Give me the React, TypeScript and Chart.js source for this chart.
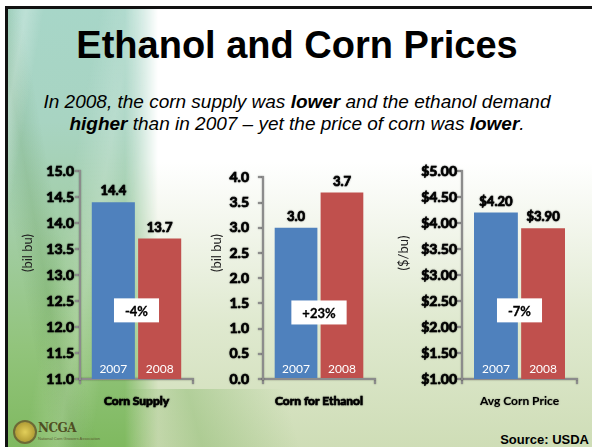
import React, { useEffect, useRef } from "react";
import { Chart, registerables } from "chart.js";

Chart.register(...registerables);

// ---------- data ----------
const years = ["2007", "2008"];
const categories = ["Corn Supply", "Corn for Ethanol", "Avg Corn Price"];
const cornSupply = [14.4, 13.7];
const cornForEthanol = [3.0, 3.7];
const avgCornPrice = [4.2, 3.9];
const changes = ["-4%", "+23%", "-7%"];
const axisTitles = ["(bil bu)", "(bil bu)", "($/bu)"];
const axisMin = [11, 0, 1];
const axisMax = [15, 4, 5];
const tickStep = 0.5;

const BLUE = "#4f81bd";
const RED = "#c0504d";
const AXIS = "#8c8c8c";
const FONT = "Lato, 'Open Sans', sans-serif";

const fmtNum = (v: number) => v.toFixed(1);
const fmtDollar = (v: number) => "$" + v.toFixed(2);

const decoPlugin = {
  id: "deco",
  beforeDraw(chart: any) {
    const ctx = chart.ctx;
    ctx.shadowColor = "rgba(0,0,0,0.5)";
    ctx.shadowBlur = 1.5;
  },
  beforeDatasetsDraw(chart: any) {
    const ctx = chart.ctx;
    ctx.shadowColor = "transparent";
    ctx.shadowBlur = 0;
  },
  afterDatasetsDraw(chart: any, _args: any, opts: any) {
    const ctx = chart.ctx;
    const area = chart.chartArea;
    ctx.save();
    chart.data.datasets.forEach((ds: any, di: number) => {
      const meta = chart.getDatasetMeta(di);
      meta.data.forEach((bar: any, i: number) => {
        const v = ds.data[i];
        ctx.font = `bold 13px ${FONT}`;
        ctx.fillStyle = "#000";
        ctx.strokeStyle = "#000";
        ctx.lineWidth = 0.7;
        ctx.textAlign = "center";
        ctx.textBaseline = "alphabetic";
        ctx.shadowColor = "rgba(0,0,0,0.5)";
        ctx.shadowBlur = 1.5;
        ctx.strokeText(opts.fmt(v), bar.x, bar.y - 7);
        ctx.fillText(opts.fmt(v), bar.x, bar.y - 7);
        ctx.shadowColor = "transparent";
        ctx.shadowBlur = 0;
        ctx.font = `12px ${FONT}`;
        ctx.fillStyle = "#fff";
        ctx.textBaseline = "middle";
        ctx.fillText(ds.label, bar.x, area.bottom - 10);
      });
    });
    const xScale = chart.scales.x;
    const cx = xScale.getPixelForValue(0);
    const cy = area.bottom - 0.33 * (area.bottom - area.top);
    ctx.font = `bold 13px ${FONT}`;
    const w = ctx.measureText(opts.change).width + 22;
    ctx.fillStyle = "#fff";
    ctx.fillRect(cx - w / 2, cy - 12, w, 24);
    ctx.fillStyle = "#000";
    ctx.textAlign = "center";
    ctx.textBaseline = "middle";
    ctx.strokeStyle = "#000";
    ctx.lineWidth = 0.3;
    ctx.strokeText(opts.change, cx, cy + 1);
    ctx.fillText(opts.change, cx, cy + 1);
    ctx.restore();
  },
  afterDraw(chart: any, _args: any, opts: any) {
    const ctx = chart.ctx;
    ctx.save();
    ctx.shadowColor = "transparent";
    ctx.shadowBlur = 0;
    ctx.translate(opts.titleX, opts.titleY);
    ctx.rotate(-Math.PI / 2);
    ctx.font = `13px ${FONT}`;
    ctx.fillStyle = "#222";
    ctx.textAlign = "center";
    ctx.textBaseline = "middle";
    ctx.fillText(opts.title, 0, 0);
    ctx.restore();
  },
};

type PanelProps = {
  idx: number;
  values: number[];
  left: number;
  width: number;
  yAxisWidth: number;
  rightPad: number;
  tickPad: number;
  titleX: number;
  fmt: (v: number) => string;
  catStroke: number;
};

const TOP = 160;
const HEIGHT = 260;

function Panel(p: PanelProps) {
  const ref = useRef<HTMLCanvasElement | null>(null);
  useEffect(() => {
    if (!ref.current) return;
    const chart = new Chart(ref.current, {
      type: "bar",
      data: {
        labels: [categories[p.idx]],
        datasets: [
          { label: years[0], data: [p.values[0]], backgroundColor: BLUE },
          { label: years[1], data: [p.values[1]], backgroundColor: RED },
        ],
      },
      options: {
        responsive: false,
        animation: false,
        layout: { padding: { top: 11, right: p.rightPad, bottom: 0, left: 0 } },
        datasets: { bar: { categoryPercentage: 0.82, barPercentage: 0.93 } },
        plugins: {
          legend: { display: false },
          tooltip: { enabled: false },
          deco: { fmt: p.fmt, change: changes[p.idx], title: axisTitles[p.idx], titleX: p.titleX, titleY: 93 },
        } as any,
        scales: {
          x: {
            grid: { offset: true, drawOnChartArea: false, drawTicks: true, tickLength: 5, color: AXIS, lineWidth: 2 },
            border: { color: AXIS, width: 2 },
            ticks: {
              color: "#000",
              padding: 10,
              textStrokeColor: "#000",
              textStrokeWidth: p.catStroke,
              font: { family: FONT, size: 12, weight: "bold" as any },
            } as any,
            afterFit: (s: any) => { s.height = 41; },
          },
          y: {
            min: axisMin[p.idx],
            max: axisMax[p.idx],
            grid: { drawOnChartArea: false, drawTicks: true, tickLength: 5, color: AXIS, lineWidth: 2 },
            border: { color: AXIS, width: 2 },
            ticks: {
              stepSize: tickStep,
              padding: p.tickPad,
              color: "#000",
              textStrokeColor: "#000",
              textStrokeWidth: 0.7,
              font: { family: FONT, size: 14, weight: "bold" as any },
              callback: (v: any) => p.fmt(Number(v)),
            } as any,
            afterFit: (s: any) => { s.width = p.yAxisWidth; },
          },
        },
      },
      plugins: [decoPlugin],
    });
    return () => chart.destroy();
  }, []);
  return (
    <canvas
      ref={ref}
      width={p.width}
      height={HEIGHT}
      style={{ position: "absolute", left: p.left, top: TOP, width: p.width, height: HEIGHT }}
    />
  );
}

export default function App() {
  return (
    <div
      style={{
        position: "absolute",
        left: 0,
        top: 0,
        width: 592,
        height: 447,
        overflow: "hidden",
        background: "#fff",
      }}
    >
      <div
        style={{
          position: "absolute",
          left: 5,
          top: 6,
          width: 600,
          height: 450,
          borderTop: "3px solid #111",
          borderLeft: "3px solid #111",
          overflow: "hidden",
          background:
            "linear-gradient(180deg, #ffffff 0%, #ffffff 34%, #f1f5ea 50%, #dfe9cf 70%, #cddcb4 100%)",
        }}
      >
        <div
          style={{
            position: "absolute",
            left: 0,
            top: 0,
            width: 150,
            height: 450,
            background:
              "linear-gradient(180deg, #a7d6c8 0%, #a8d4c2 25%, #a2cda4 50%, #92c47c 75%, #7db85c 100%)",
            WebkitMaskImage: "linear-gradient(90deg, #000 0%, #000 78%, transparent 100%)",
            maskImage: "linear-gradient(90deg, #000 0%, #000 78%, transparent 100%)",
          }}
        />
        <div
          style={{
            position: "absolute",
            left: 0,
            top: 0,
            width: 150,
            height: 450,
            background:
              "linear-gradient(100deg, transparent 0%, rgba(255,255,255,0.25) 8%, transparent 16%, transparent 40%, rgba(255,255,255,0.2) 55%, transparent 70%), linear-gradient(80deg, transparent 20%, rgba(60,120,40,0.15) 30%, transparent 40%)",
            WebkitMaskImage: "linear-gradient(90deg, #000 0%, #000 70%, transparent 100%)",
            maskImage: "linear-gradient(90deg, #000 0%, #000 70%, transparent 100%)",
          }}
        />
        <div
          style={{
            position: "absolute",
            left: 100,
            top: 380,
            width: 260,
            height: 70,
            background: "linear-gradient(75deg, transparent 10%, rgba(110,170,80,0.35) 35%, transparent 70%)",
          }}
        />
      </div>

      <div
        style={{
          position: "absolute",
          left: 0,
          top: 26,
          width: 594,
          textAlign: "center",
          fontFamily: "'Liberation Sans', Arial, sans-serif",
          fontWeight: "bold",
          fontSize: 38,
          lineHeight: "38px",
          color: "#000",
          whiteSpace: "nowrap",
        }}
      >
        Ethanol and Corn Prices
      </div>
      <div
        style={{
          position: "absolute",
          left: 0,
          top: 91,
          width: 594,
          textAlign: "center",
          fontFamily: "'Liberation Sans', Arial, sans-serif",
          fontStyle: "italic",
          fontSize: 19,
          lineHeight: "22px",
          color: "#000",
          whiteSpace: "nowrap",
        }}
      >
        In 2008, the corn supply was <b>lower</b> and the ethanol demand
        <br />
        <b>higher</b> than in 2007 – yet the price of corn was <b>lower</b>.
      </div>

      <Panel idx={0} values={cornSupply} left={20} width={180} yAxisWidth={60} rightPad={7} tickPad={1} titleX={8} fmt={fmtNum} catStroke={0.7} />
      <Panel idx={1} values={cornForEthanol} left={200} width={190} yAxisWidth={63} rightPad={15} tickPad={9} titleX={17} fmt={fmtNum} catStroke={0.7} />
      <Panel idx={2} values={avgCornPrice} left={390} width={202} yAxisWidth={72} rightPad={15} tickPad={0} titleX={14} fmt={fmtDollar} catStroke={0} />

      <div style={{ position: "absolute", left: 13, top: 420, width: 20, height: 20, borderRadius: "50%", border: "2px solid #6d6a35", background: "radial-gradient(circle, #e2cf5a 0%, #b9a43a 60%, #8a8a45 100%)" }} />
      <div style={{ position: "absolute", left: 38, top: 421, fontFamily: "'DejaVu Serif', serif", fontWeight: "bold", fontSize: 12, color: "#4f4e22", letterSpacing: -0.5 }}>
        NCGA
      </div>
      <div style={{ position: "absolute", left: 38, top: 436, fontFamily: "'Liberation Sans', sans-serif", fontSize: 4, color: "#5a5a30", whiteSpace: "nowrap" }}>
        National Corn Growers Association
      </div>

      <div
        style={{
          position: "absolute",
          right: 3,
          top: 432,
          fontFamily: "'Liberation Sans', Arial, sans-serif",
          fontWeight: "bold",
          fontSize: 13,
          lineHeight: "15px",
          color: "#000",
        }}
      >
        Source: USDA
      </div>
    </div>
  );
}
